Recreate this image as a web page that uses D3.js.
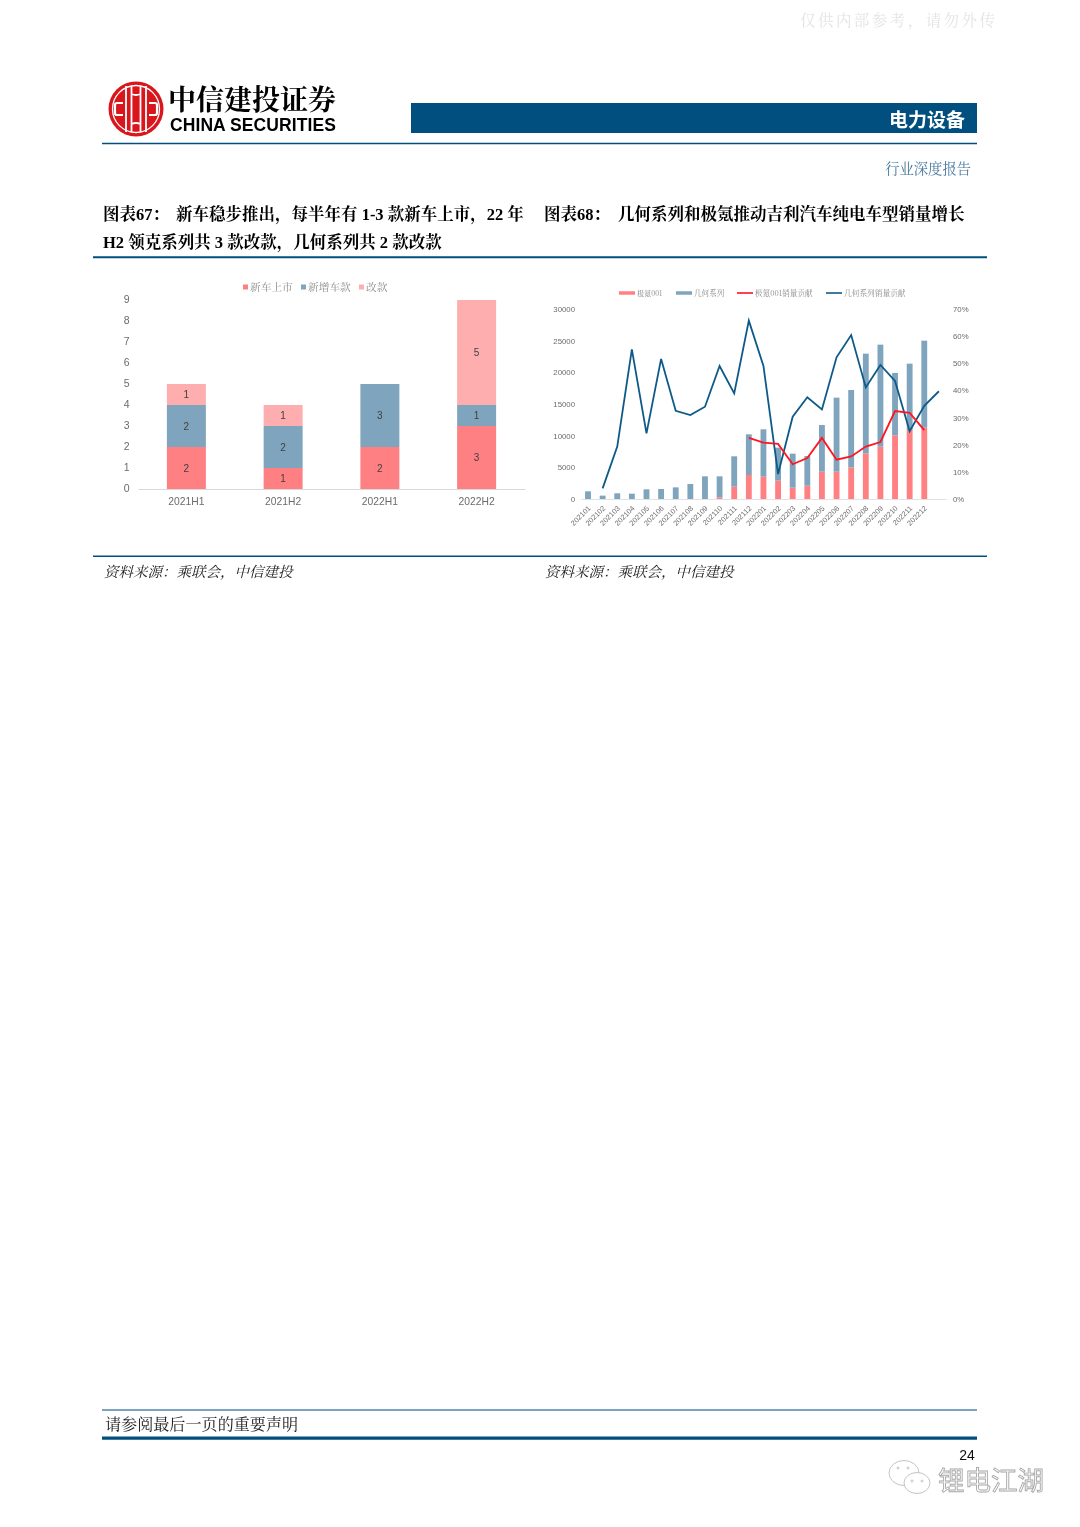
<!DOCTYPE html>
<html><head><meta charset="utf-8">
<script src="https://cdn.jsdelivr.net/npm/d3@7/dist/d3.min.js"></script>
<style>html,body{margin:0;padding:0;background:#fff}svg{display:block}</style>
</head><body><svg id="p" width="1080" height="1527"></svg>
<script>
const halves=["2021H1","2021H2","2022H1","2022H2"];
const newCar=[2,1,2,3];
const newTrim=[2,2,3,1];
const facelift=[1,1,0,5];
const leftLegend=["新车上市","新增车款","改款"];
const leftTicks=[0,1,2,3,4,5,6,7,8,9];

const months=["202101","202102","202103","202104","202105","202106","202107","202108","202109","202110","202111","202112","202201","202202","202203","202204","202205","202206","202207","202208","202209","202210","202211","202212"];
const zeekr=[0,0,0,0,0,0,0,0,0,260,1950,3790,3530,2900,1790,2100,4320,4320,5000,7210,8260,10050,10900,11260];
const geometry=[1210,530,900,840,1530,1580,1840,2370,3580,3320,4790,6420,7470,5200,5370,4690,7360,11680,12210,15740,16110,9850,10470,13740];
const zeekrShare=[null,null,null,null,null,null,null,null,null,null,null,22.5,20.8,20.3,12.8,15.1,22.5,14.5,15.7,19.3,21,32.4,31.7,25.4];
const geometryShare=[null,3.9,19.3,55.1,24.2,51.6,32.5,30.9,34,49,38.9,65.7,49,9.2,30.3,37.5,33,52.2,60.4,41.1,49.4,43.5,25,34.3,39.7];
const rightLegend=["极氪001","几何系列","极氪001销量贡献","几何系列销量贡献"];
const volTicks=[0,5000,10000,15000,20000,25000,30000];
const pctTicks=[0,10,20,30,40,50,60,70];

const RED="#ff8083",BLUE="#7fa4bd",PINK="#ffaeb0",NAVY="#04507f",TXT="#6b6b6b";
const SERIFSC="'Noto Serif CJK SC','Noto Sans CJK SC',serif";
const SERIF="'Liberation Serif','Noto Serif CJK SC','Noto Sans CJK SC',serif";
const SC="'Noto Sans CJK SC',sans-serif";
const SANS="'Liberation Sans',Arial,sans-serif";
const svg=d3.select("#p");
const defs=svg.append("defs");
defs.append("filter").attr("id","soft").append("feGaussianBlur").attr("stdDeviation",0.45);
defs.append("filter").attr("id","softer").append("feGaussianBlur").attr("stdDeviation",0.3);

function txt(g,x,y,s,o={}){
  return g.append("text").attr("x",x).attr("y",y).text(s)
   .attr("font-family",o.ff||SC).attr("font-size",o.fs||14).attr("fill",o.fill||"#000")
   .attr("font-weight",o.fw||400).attr("text-anchor",o.a||"start")
   .attr("font-style",o.it?"italic":null)
   .attr("letter-spacing",o.ls||null).attr("transform",o.tr||null);
}
function rule(g,x1,x2,y,w,c){g.append("line").attr("x1",x1).attr("x2",x2).attr("y1",y).attr("y2",y).attr("stroke",c).attr("stroke-width",w);}

// page furniture
const page=svg.append("g").attr("filter","url(#softer)");
txt(page,800,26,"仅供内部参考，请勿外传",{fs:15.5,fill:"#e4e4e4",ls:2.45,ff:SERIFSC});
const logo=page.append("g").attr("transform","translate(136,109)");
logo.append("circle").attr("r",27.5).attr("fill","#d8141c");
logo.append("circle").attr("r",23.5).attr("fill","none").attr("stroke","#fff").attr("stroke-width",1.3);
logo.append("path").attr("d","M-10,-23Q-10,-17 -10,-12V12Q-10,17 -10,23M-4.5,-23Q-4.5,-14 -4.5,-8V8Q-4.5,14 -4.5,23M10,-23Q10,-17 10,-12V12Q10,17 10,23M4.5,-23Q4.5,-14 4.5,-8V8Q4.5,14 4.5,23M-4.5,-15Q0,-13 4.5,-15M-4.5,15Q0,13 4.5,15")
  .attr("fill","none").attr("stroke","#fff").attr("stroke-width",1.8);
logo.append("path").attr("d","M-13,-6H-19Q-21,-6 -21,-4V4Q-21,6 -19,6H-13M13,-6H19Q21,-6 21,-4V4Q21,6 19,6H13")
  .attr("fill","none").attr("stroke","#fff").attr("stroke-width",2.2);
txt(page,168,109.5,"中信建投证券",{fs:28,fw:700,ff:SERIFSC});
txt(page,170,130.5,"CHINA SECURITIES",{fs:17.5,fw:700,ff:SANS,ls:0.08});
page.append("rect").attr("x",411).attr("y",103).attr("width",566).attr("height",30).attr("fill",NAVY);
txt(page,965,126.5,"电力设备",{fs:19,fw:700,fill:"#fff",a:"end"});
rule(page,102,977,143.5,1.6,NAVY);
txt(page,971,174,"行业深度报告",{fs:14.3,fill:"#4a7ba0",a:"end",ff:SERIFSC});
const T={fs:16.5,fw:700,ff:SERIF};
txt(page,103,219.5,"图表67：",T);
txt(page,176,219.5,"新车稳步推出，每半年有 1-3 款新车上市，22 年",T);
txt(page,103,247.5,"H2 领克系列共 3 款改款，几何系列共 2 款改款",T);
txt(page,544,219.5,"图表68：",T);
txt(page,618,219.5,"几何系列和极氪推动吉利汽车纯电车型销量增长",T);
rule(page,93,987,257.2,2,NAVY);
rule(page,93,987,556.2,1.6,NAVY);
const S={fs:14.5,it:true,fill:"#222",ff:SERIFSC};
txt(page,104,577,"资料来源：乘联会，中信建投",S);
txt(page,545,577,"资料来源：乘联会，中信建投",S);
rule(page,102,977,1410,1.6,"#4f86ad");
txt(page,105,1430,"请参阅最后一页的重要声明",{fs:16.1,fill:"#222",ff:SERIFSC});
rule(page,102,977,1438.2,3.2,NAVY);
txt(page,967,1459.5,"24",{fs:14,fill:"#111",a:"middle",ff:SANS});
// wechat mark
const wm=page.append("g").attr("fill","#fff").attr("stroke","#c4c4c4").attr("stroke-width",1);
wm.append("ellipse").attr("cx",904).attr("cy",1473).attr("rx",15).attr("ry",12.5);
wm.append("ellipse").attr("cx",917).attr("cy",1483).attr("rx",13).attr("ry",10.5);
[[898,1468],[908,1468],[912,1481],[922,1481]].forEach(d=>wm.append("circle").attr("cx",d[0]).attr("cy",d[1]).attr("r",1));
txt(page,938,1490,"锂电江湖",{fs:26.5,fill:"#fff",ff:SC}).attr("stroke","#a8a8a8").attr("stroke-width",0.9);

// left chart
const L=svg.append("g").attr("filter","url(#soft)");
const lx=d3.scaleBand().domain(halves).range([138,525]).paddingInner(0.597).paddingOuter(0.2985);
const ly=d3.scaleLinear().domain([0,9]).range([489,300]);
const lStack=d3.stack().keys([0,1,2]).value((d,k)=>[newCar,newTrim,facelift][k][d])(d3.range(4));
const lCol=[RED,BLUE,PINK];
lStack.forEach((s,k)=>{
  L.selectAll(null).data(s).join("rect")
   .attr("x",(d,i)=>lx(halves[i])).attr("width",lx.bandwidth())
   .attr("y",d=>ly(d[1])).attr("height",d=>ly(d[0])-ly(d[1])).attr("fill",lCol[k]);
  L.selectAll(null).data(s.filter(d=>d[1]>d[0])).join("text")
   .attr("x",d=>lx(halves[d.data])+lx.bandwidth()/2).attr("y",d=>(ly(d[0])+ly(d[1]))/2+3.5)
   .attr("text-anchor","middle").attr("font-family",SANS).attr("font-size",10).attr("fill","#404040")
   .text(d=>d[1]-d[0]);
});
const lAxisB=L.append("g").attr("transform","translate(0,489)").call(d3.axisBottom(lx).tickSize(0).tickPadding(8.5));
lAxisB.select(".domain").attr("stroke","#d9d9d9");
lAxisB.selectAll("text").attr("font-family",SANS).attr("font-size",10.3).attr("fill",TXT);
const lAxisY=L.append("g").attr("transform","translate(129.6,-0.6)").call(d3.axisLeft(ly).tickValues(leftTicks).tickSize(0).tickPadding(0));
lAxisY.select(".domain").remove();
lAxisY.selectAll("text").attr("font-family",SANS).attr("font-size",10.5).attr("fill",TXT);
[[243,250],[301,308],[359,366]].forEach((p,i)=>{
  L.append("rect").attr("x",p[0]).attr("y",284.5).attr("width",5).attr("height",5).attr("fill",lCol[i]);
  txt(L,p[1],291,leftLegend[i],{fs:10.7,fill:"#8a8a8a",ff:SERIFSC});
});

// right chart
const R=svg.append("g").attr("filter","url(#soft)");
const catsR=months.concat([""]);
const rx=d3.scaleBand().domain(catsR).range([580.7,946.2]).paddingInner(0.6).paddingOuter(0.3);
const cx=i=>rx(catsR[i])+rx.bandwidth()/2;
const ry=d3.scaleLinear().domain([0,30000]).range([499,309]);
const rp=d3.scaleLinear().domain([0,70]).range([499,309]);
R.selectAll(null).data(months).join("rect").attr("x",(d,i)=>rx(d)).attr("width",rx.bandwidth())
 .attr("y",(d,i)=>ry(zeekr[i])).attr("height",(d,i)=>ry(0)-ry(zeekr[i])).attr("fill",RED);
R.selectAll(null).data(months).join("rect").attr("x",(d,i)=>rx(d)).attr("width",rx.bandwidth())
 .attr("y",(d,i)=>ry(zeekr[i]+geometry[i])).attr("height",(d,i)=>ry(0)-ry(geometry[i])).attr("fill",BLUE);
const ln=d3.line().defined(d=>d!==null).x((d,i)=>cx(i)).y(d=>rp(d));
R.append("path").attr("d",ln(geometryShare)).attr("fill","none").attr("stroke","#0f5a88").attr("stroke-width",1.8);
R.append("path").attr("d",ln(zeekrShare)).attr("fill","none").attr("stroke","#ff1420").attr("stroke-width",1.8);
const rb=R.append("g").attr("transform","translate(0,499)").call(d3.axisBottom(rx).tickSize(0).tickFormat(d=>d));
rb.select(".domain").attr("stroke","#e2e2e2");
rb.selectAll("text").attr("font-family",SANS).attr("font-size",7.4).attr("fill",TXT)
  .attr("text-anchor","end").attr("transform","translate(-1.5,5) rotate(-45)").attr("dy","0.5em");
const ra=R.append("g").attr("transform","translate(575,0)").call(d3.axisLeft(ry).tickValues(volTicks).tickFormat(d=>d).tickSize(0).tickPadding(0));
ra.select(".domain").remove();
ra.selectAll("text").attr("font-family",SANS).attr("font-size",7.8).attr("fill",TXT);
const rr=R.append("g").attr("transform","translate(953,0)").call(d3.axisRight(rp).tickValues(pctTicks).tickFormat(d=>d+"%").tickSize(0).tickPadding(0));
rr.select(".domain").remove();
rr.selectAll("text").attr("font-family",SANS).attr("font-size",7.8).attr("fill",TXT);
const legX=[[619,637],[676,694],[737,755],[826,844]],legC=[RED,BLUE,"#ff1420","#0f5a88"],legW=[3.5,3.5,1.6,1.6],legF=[7.1,7.6,7.6,7.7];
legX.forEach((p,i)=>{
  rule(R,p[0],p[0]+16,293,legW[i],legC[i]);
  txt(R,p[1],296,rightLegend[i],{fs:legF[i],fill:"#8a8a8a",ff:SERIFSC});
});
</script></body></html>
